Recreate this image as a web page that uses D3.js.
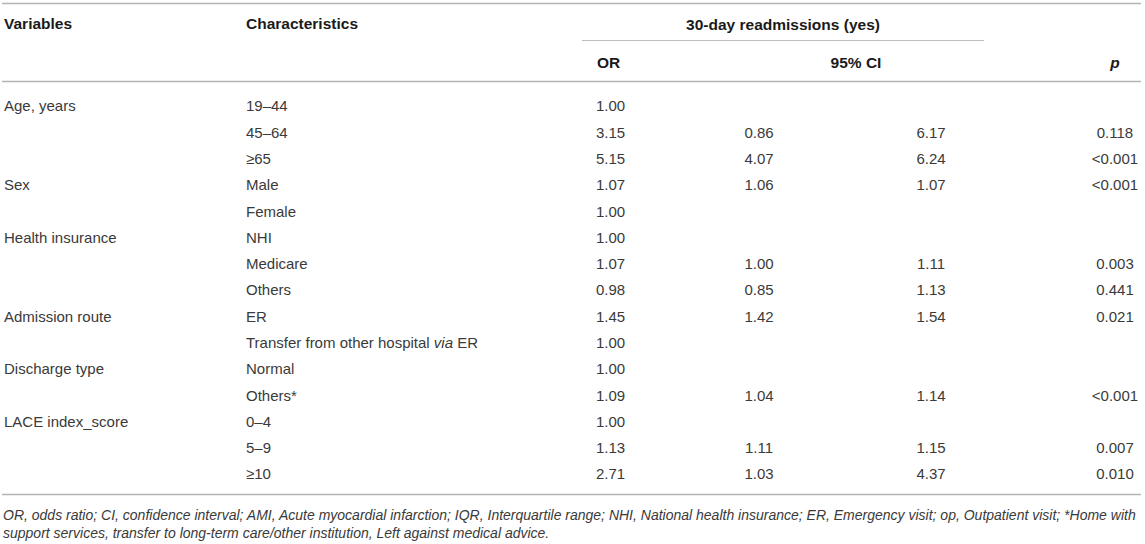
<!DOCTYPE html>
<html>
<head>
<meta charset="utf-8">
<script src="https://cdn.jsdelivr.net/npm/d3@7"></script>
<style>
  html, body { margin: 0; padding: 0; background: #fff; }
  svg { display: block; font-family: "Liberation Sans", Arial, Helvetica, sans-serif; }
</style>
</head>
<body>
<svg id="chart" width="1145" height="544"></svg>
<script>
// ---- Data ----
const variables = ["Age, years", "", "", "Sex", "", "Health insurance", "", "", "Admission route", "", "Discharge type", "", "LACE index_score", "", ""];
const characteristics = ["19–44", "45–64", "≥65", "Male", "Female", "NHI", "Medicare", "Others", "ER", "Transfer from other hospital |via| ER", "Normal", "Others*", "0–4", "5–9", "≥10"];
const orValues = ["1.00", "3.15", "5.15", "1.07", "1.00", "1.00", "1.07", "0.98", "1.45", "1.00", "1.00", "1.09", "1.00", "1.13", "2.71"];
const ciLower = ["", "0.86", "4.07", "1.06", "", "", "1.00", "0.85", "1.42", "", "", "1.04", "", "1.11", "1.03"];
const ciUpper = ["", "6.17", "6.24", "1.07", "", "", "1.11", "1.13", "1.54", "", "", "1.14", "", "1.15", "4.37"];
const pValues = ["", "0.118", "<0.001", "<0.001", "", "", "0.003", "0.441", "0.021", "", "", "<0.001", "", "0.007", "0.010"];
const headerTop = ["Variables", "Characteristics", "30-day readmissions (yes)"];
const headerSub = ["OR", "95% CI", "p"];
const footnotes = [
  "OR, odds ratio; CI, confidence interval; AMI, Acute myocardial infarction; IQR, Interquartile range; NHI, National health insurance; ER, Emergency visit; op, Outpatient visit; *Home with",
  "support services, transfer to long-term care/other institution, Left against medical advice."
];

// ---- Layout ----
const svg = d3.select("#chart");
const rows = d3.range(characteristics.length);
const y = d3.scaleLinear().domain([0, rows.length - 1]).range([106, 474]);
const baseOff = 5.4; // visual centre -> baseline for 15px text

const lineColor = "#b4b4b4";
const headColor = "#1a1a1a";
const bodyColor = "#3a3a3a";

function hline(x1, x2, yy, w, c) {
  svg.append("line").attr("x1", x1).attr("x2", x2).attr("y1", yy).attr("y2", yy)
    .attr("stroke", c).attr("stroke-width", w);
}
hline(2, 1141, 3.5, 1.6, lineColor);
hline(582, 984, 40.5, 1.2, "#bdbdbd");
hline(2, 1141, 81.5, 1.6, lineColor);
hline(2, 1141, 494.5, 1.6, lineColor);

// header
const hdr = svg.append("g").attr("font-size", 15.5).attr("font-weight", "bold").attr("fill", headColor);
hdr.append("text").attr("x", 4).attr("y", 28.5).text(headerTop[0]);
hdr.append("text").attr("x", 246).attr("y", 28.5).text(headerTop[1]);
hdr.append("text").attr("x", 783).attr("y", 29.5).attr("text-anchor", "middle").text(headerTop[2]);
hdr.append("text").attr("x", 597).attr("y", 67.5).text(headerSub[0]);
hdr.append("text").attr("x", 856).attr("y", 67.5).attr("text-anchor", "middle").text(headerSub[1]);
hdr.append("text").attr("x", 1115).attr("y", 67.5).attr("text-anchor", "middle")
  .attr("font-style", "italic").text(headerSub[2]);

// body
const body = svg.append("g").attr("font-size", 15).attr("fill", bodyColor);

body.selectAll("text.var").data(rows).join("text").attr("class", "var")
  .attr("x", 4).attr("y", i => y(i) + baseOff).text(i => variables[i]);

body.selectAll("text.chr").data(rows).join("text").attr("class", "chr")
  .attr("x", 246).attr("y", i => y(i) + baseOff)
  .each(function(i) {
    const parts = characteristics[i].split("|");
    const t = d3.select(this);
    parts.forEach((p, k) => {
      t.append("tspan").attr("font-style", k % 2 === 1 ? "italic" : null).text(p);
    });
  });

body.selectAll("text.or").data(rows).join("text").attr("class", "or")
  .attr("x", 596).attr("y", i => y(i) + baseOff).text(i => orValues[i]);

body.selectAll("text.lo").data(rows).join("text").attr("class", "lo")
  .attr("x", 759).attr("text-anchor", "middle").attr("y", i => y(i) + baseOff).text(i => ciLower[i]);

body.selectAll("text.hi").data(rows).join("text").attr("class", "hi")
  .attr("x", 931).attr("text-anchor", "middle").attr("y", i => y(i) + baseOff).text(i => ciUpper[i]);

body.selectAll("text.p").data(rows).join("text").attr("class", "p")
  .attr("x", 1115).attr("text-anchor", "middle").attr("y", i => y(i) + baseOff).text(i => pValues[i]);

// footnotes
svg.append("g").attr("font-size", 14).attr("font-style", "italic").attr("fill", bodyColor)
  .selectAll("text").data(footnotes).join("text")
  .attr("x", 3).attr("y", (d, i) => 520 + i * 18).text(d => d);
</script>
</body>
</html>
